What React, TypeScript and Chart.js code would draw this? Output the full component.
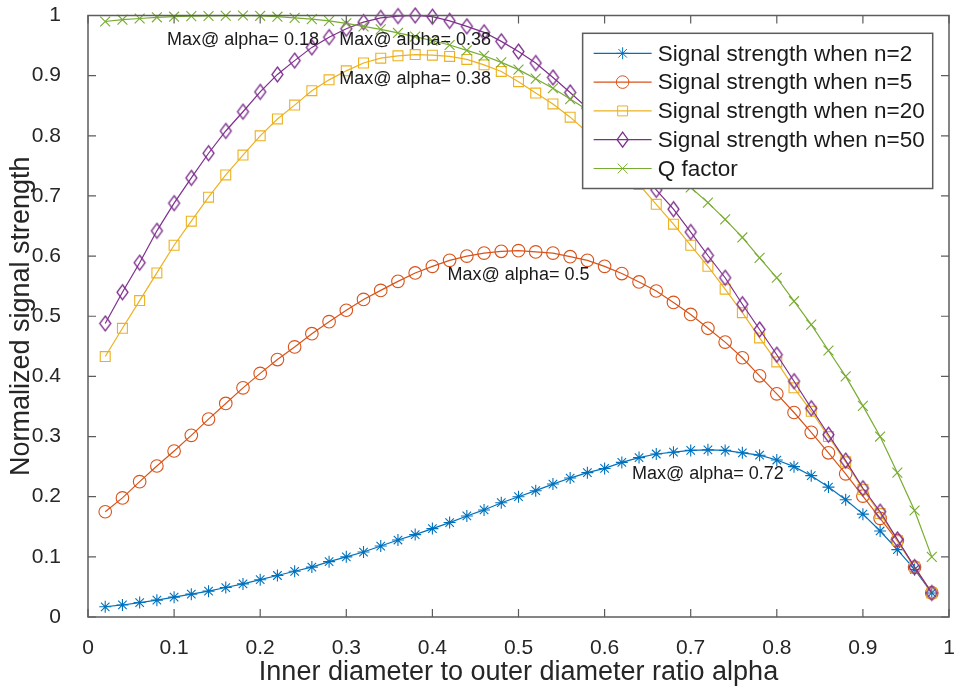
import React, { useEffect, useRef } from 'react';
import { Chart, registerables } from 'chart.js';

Chart.register(...registerables);

// ---------------- data ----------------
const alpha = [
  0.02, 0.04, 0.06, 0.08, 0.1, 0.12, 0.14, 0.16, 0.18, 0.2,
  0.22, 0.24, 0.26, 0.28, 0.3, 0.32, 0.34, 0.36, 0.38, 0.4,
  0.42, 0.44, 0.46, 0.48, 0.5, 0.52, 0.54, 0.56, 0.58, 0.6,
  0.62, 0.64, 0.66, 0.68, 0.7, 0.72, 0.74, 0.76, 0.78, 0.8,
  0.82, 0.84, 0.86, 0.88, 0.9, 0.92, 0.94, 0.96, 0.98,
];

const signalN2 = [
  0.017, 0.020, 0.024, 0.028, 0.033, 0.038, 0.043, 0.049, 0.055, 0.062,
  0.069, 0.076, 0.083, 0.092, 0.100, 0.108, 0.118, 0.128, 0.137, 0.147,
  0.157, 0.168, 0.178, 0.190, 0.200, 0.210, 0.221, 0.231, 0.240, 0.247,
  0.257, 0.265, 0.271, 0.274, 0.277, 0.278, 0.277, 0.273, 0.269, 0.261,
  0.250, 0.235, 0.216, 0.195, 0.171, 0.143, 0.112, 0.079, 0.040,
];

const signalN5 = [
  0.175, 0.198, 0.225, 0.251, 0.276, 0.302, 0.329, 0.355, 0.381, 0.405,
  0.428, 0.449, 0.471, 0.491, 0.510, 0.528, 0.543, 0.558, 0.572, 0.583,
  0.593, 0.600, 0.605, 0.608, 0.609, 0.607, 0.605, 0.599, 0.593, 0.583,
  0.571, 0.557, 0.542, 0.523, 0.503, 0.480, 0.457, 0.431, 0.401, 0.371,
  0.340, 0.307, 0.273, 0.238, 0.201, 0.164, 0.127, 0.083, 0.040,
];

const signalN20 = [
  0.433, 0.480, 0.526, 0.572, 0.618, 0.658, 0.698, 0.735, 0.768, 0.800,
  0.828, 0.851, 0.875, 0.893, 0.908, 0.921, 0.929, 0.933, 0.935, 0.934,
  0.932, 0.927, 0.918, 0.907, 0.890, 0.871, 0.853, 0.831, 0.806, 0.779,
  0.750, 0.719, 0.686, 0.653, 0.618, 0.583, 0.545, 0.506, 0.464, 0.424,
  0.381, 0.342, 0.300, 0.258, 0.212, 0.172, 0.127, 0.083, 0.040,
];

const signalN50 = [
  0.488, 0.540, 0.589, 0.642, 0.688, 0.730, 0.771, 0.808, 0.840, 0.873,
  0.902, 0.925, 0.947, 0.964, 0.978, 0.989, 0.996, 0.999, 1.000, 0.998,
  0.991, 0.982, 0.972, 0.957, 0.940, 0.921, 0.897, 0.872, 0.846, 0.818,
  0.787, 0.751, 0.710, 0.678, 0.640, 0.601, 0.564, 0.520, 0.478, 0.436,
  0.392, 0.347, 0.303, 0.260, 0.214, 0.175, 0.129, 0.083, 0.040,
];

const qFactor = [
  0.990, 0.993, 0.995, 0.997, 0.998, 0.999, 0.9992, 0.9996, 1.000, 0.9995,
  0.998, 0.996, 0.994, 0.991, 0.987, 0.982, 0.977, 0.971, 0.965, 0.958,
  0.951, 0.942, 0.933, 0.922, 0.910, 0.895, 0.879, 0.861, 0.843, 0.823,
  0.802, 0.780, 0.758, 0.736, 0.714, 0.689, 0.661, 0.631, 0.597, 0.564,
  0.525, 0.486, 0.443, 0.400, 0.351, 0.300, 0.240, 0.177, 0.100,
];

const seriesLabels = [
  'Signal strength when n=2',
  'Signal strength when n=5',
  'Signal strength when n=20',
  'Signal strength when n=50',
  'Q factor',
];

const xTickValues = [0, 0.1, 0.2, 0.3, 0.4, 0.5, 0.6, 0.7, 0.8, 0.9, 1];
const xTickLabels = ['0', '0.1', '0.2', '0.3', '0.4', '0.5', '0.6', '0.7', '0.8', '0.9', '1'];
const yTickValues = [0, 0.1, 0.2, 0.3, 0.4, 0.5, 0.6, 0.7, 0.8, 0.9, 1];
const yTickLabels = ['0', '0.1', '0.2', '0.3', '0.4', '0.5', '0.6', '0.7', '0.8', '0.9', '1'];

const xTitle = 'Inner diameter to outer diameter ratio alpha';
const yTitle = 'Normalized signal strength';
const annotationPrefix = 'Max@ alpha= ';

// ---------------- style ----------------
const FONT = '"Liberation Sans", Arial, Helvetica, sans-serif';
const COLORS = ['#0072BD', '#D95319', '#EDB120', '#7E2F8E', '#77AC30'];
const MARKERS = ['star', 'circle', 'rect', 'diamond', 'crossRot'];
const RADII = [6, 6.3, 7, 7, 7];
const AXIS_COLOR = '#262626';
const BOX_COLOR = '#5c5c5c';

function makeDiamond(color: string, w: number, h: number, lw: number) {
  const c = document.createElement('canvas');
  c.width = Math.ceil(w + lw * 2 + 1);
  c.height = Math.ceil(h + lw * 2 + 1);
  const g = c.getContext('2d')!;
  const cx = c.width / 2;
  const cy = c.height / 2;
  g.strokeStyle = color;
  g.lineWidth = lw;
  g.beginPath();
  g.moveTo(cx, cy - h / 2);
  g.lineTo(cx + w / 2, cy);
  g.lineTo(cx, cy + h / 2);
  g.lineTo(cx - w / 2, cy);
  g.closePath();
  g.stroke();
  return c;
}

function drawMarker(ctx: CanvasRenderingContext2D, style: string, x: number, y: number, r: number, color: string) {
  ctx.save();
  ctx.strokeStyle = color;
  ctx.lineWidth = 1;
  ctx.beginPath();
  if (style === 'star') {
    for (let k = 0; k < 4; k++) {
      const a = (k * Math.PI) / 4;
      ctx.moveTo(x - Math.cos(a) * r, y - Math.sin(a) * r);
      ctx.lineTo(x + Math.cos(a) * r, y + Math.sin(a) * r);
    }
  } else if (style === 'circle') {
    ctx.arc(x, y, r, 0, Math.PI * 2);
  } else if (style === 'rect') {
    const s = r * Math.SQRT1_2;
    ctx.rect(x - s, y - s, 2 * s, 2 * s);
  } else if (style === 'diamond') {
    ctx.lineWidth = 1.3;
    ctx.moveTo(x, y - 7.5);
    ctx.lineTo(x + 5.5, y);
    ctx.lineTo(x, y + 7.5);
    ctx.lineTo(x - 5.5, y);
    ctx.closePath();
  } else if (style === 'crossRot') {
    const s = r * Math.SQRT1_2;
    ctx.moveTo(x - s, y - s);
    ctx.lineTo(x + s, y + s);
    ctx.moveTo(x + s, y - s);
    ctx.lineTo(x - s, y + s);
  }
  ctx.stroke();
  ctx.restore();
}

const seriesValues = [signalN2, signalN5, signalN20, signalN50, qFactor];

const decorPlugin = {
  id: 'matlabDecor',
  afterDraw(chart: any) {
    const { ctx, chartArea, scales } = chart;
    const xs = scales.x;
    const ys = scales.y;
    const { left, right, top, bottom } = chartArea;

    // axes box + inward ticks
    ctx.save();
    ctx.strokeStyle = BOX_COLOR;
    ctx.lineWidth = 1.5;
    ctx.strokeRect(left, top, right - left, bottom - top);
    ctx.lineWidth = 1.2;
    ctx.beginPath();
    const tl = 8;
    xTickValues.forEach((v) => {
      const px = xs.getPixelForValue(v);
      ctx.moveTo(px, bottom);
      ctx.lineTo(px, bottom - tl);
      ctx.moveTo(px, top);
      ctx.lineTo(px, top + tl);
    });
    yTickValues.forEach((v) => {
      const py = ys.getPixelForValue(v);
      ctx.moveTo(left, py);
      ctx.lineTo(left + tl, py);
      ctx.moveTo(right, py);
      ctx.lineTo(right - tl, py);
    });
    ctx.stroke();
    ctx.restore();

    // "Max@" annotations at each series maximum
    ctx.save();
    ctx.font = `18px ${FONT}`;
    ctx.fillStyle = '#1a1a1a';
    ctx.textAlign = 'center';
    ctx.textBaseline = 'middle';
    seriesValues.forEach((vals) => {
      let bi = 0;
      vals.forEach((v, i) => {
        if (v > vals[bi]) bi = i;
      });
      const px = xs.getPixelForValue(alpha[bi]);
      const py = ys.getPixelForValue(vals[bi] - 0.04);
      ctx.fillText(annotationPrefix + String(alpha[bi]), px, py);
    });
    ctx.restore();

    // legend box
    ctx.save();
    ctx.font = `22.5px ${FONT}`;
    const textW = Math.max(...seriesLabels.map((l) => ctx.measureText(l).width));
    const padL = 11;
    const sampleW = 58;
    const gap = 6;
    const padR = 8;
    const rowH = 28.8;
    const padV = 20;
    const boxRight = right - 16.3;
    const boxTop = top + 17.8;
    const boxW = padL + sampleW + gap + textW + padR;
    const boxH = padV * 2 + rowH * (seriesLabels.length - 1);
    const boxLeft = boxRight - boxW;
    ctx.fillStyle = '#ffffff';
    ctx.fillRect(boxLeft, boxTop, boxW, boxH);
    ctx.strokeStyle = BOX_COLOR;
    ctx.lineWidth = 1.5;
    ctx.strokeRect(boxLeft, boxTop, boxW, boxH);
    seriesLabels.forEach((label, i) => {
      const cy = boxTop + padV + i * rowH;
      const x0 = boxLeft + padL;
      ctx.strokeStyle = COLORS[i];
      ctx.lineWidth = 1.2;
      ctx.beginPath();
      ctx.moveTo(x0, cy);
      ctx.lineTo(x0 + sampleW, cy);
      ctx.stroke();
      drawMarker(ctx, MARKERS[i], x0 + sampleW / 2, cy, RADII[i], COLORS[i]);
      ctx.fillStyle = '#1a1a1a';
      ctx.textAlign = 'left';
      ctx.textBaseline = 'middle';
      ctx.fillText(label, x0 + sampleW + gap, cy + 1);
    });
    ctx.restore();
  },
};

function zeroPad(s: any) {
  s.paddingTop = 0;
  s.paddingBottom = 0;
  s.paddingLeft = 0;
  s.paddingRight = 0;
}

export default function App() {
  const canvasRef = useRef<HTMLCanvasElement | null>(null);

  useEffect(() => {
    document.body.style.margin = '0';
    const canvas = canvasRef.current;
    if (!canvas) return;

    const datasets = seriesValues.map((vals, i) => {
      const style: any = MARKERS[i] === 'diamond' ? makeDiamond(COLORS[i], 11, 15, 1.3) : MARKERS[i];
      return {
        label: seriesLabels[i],
        data: alpha.map((a, k) => ({ x: a, y: vals[k] })),
        borderColor: COLORS[i],
        backgroundColor: COLORS[i],
        borderWidth: 1.2,
        pointStyle: style,
        pointRadius: RADII[i],
        pointHoverRadius: RADII[i],
        pointBorderWidth: 1.1,
        pointBorderColor: COLORS[i],
        pointBackgroundColor: 'rgba(0,0,0,0)',
        tension: 0,
        fill: false,
        clip: false as any,
        order: seriesValues.length - 1 - i,
      };
    });

    const chart = new Chart(canvas, {
      type: 'line',
      data: { datasets },
      options: {
        responsive: false,
        animation: false,
        events: [],
        layout: { autoPadding: false, padding: { top: 15.5, right: 7, left: 0, bottom: 0 } },
        plugins: {
          legend: { display: false },
          tooltip: { enabled: false },
        },
        scales: {
          x: {
            type: 'linear',
            min: 0,
            max: 1,
            afterBuildTicks: (s: any) => {
              s.ticks = xTickValues.map((v) => ({ value: v }));
            },
            afterFit: (s: any) => {
              s.height = 75;
              zeroPad(s);
            },
            grid: { display: false },
            border: { display: false },
            ticks: {
              callback: (_v: any, i: number) => xTickLabels[i],
              font: { family: FONT, size: 21 },
              color: AXIS_COLOR,
              padding: 11,
              maxRotation: 0,
              autoSkip: false,
            },
            title: {
              display: true,
              text: xTitle,
              font: { family: FONT, size: 27 },
              color: AXIS_COLOR,
              padding: { top: 0, bottom: 3 },
            },
          },
          y: {
            type: 'linear',
            min: 0,
            max: 1,
            afterBuildTicks: (s: any) => {
              s.ticks = yTickValues.map((v) => ({ value: v }));
            },
            afterFit: (s: any) => {
              s.width = 88;
              zeroPad(s);
            },
            grid: { display: false },
            border: { display: false },
            ticks: {
              callback: (_v: any, i: number) => yTickLabels[i],
              font: { family: FONT, size: 21 },
              color: AXIS_COLOR,
              padding: 19,
              autoSkip: false,
            },
            title: {
              display: true,
              text: yTitle,
              font: { family: FONT, size: 27 },
              color: AXIS_COLOR,
              padding: { top: 5, bottom: 0 },
            },
          },
        },
      },
      plugins: [decorPlugin],
    });

    return () => {
      chart.destroy();
    };
  }, []);

  return (
    <div style={{ width: 956, height: 692, background: '#ffffff' }}>
      <canvas ref={canvasRef} width={956} height={692} style={{ display: 'block' }} />
    </div>
  );
}
